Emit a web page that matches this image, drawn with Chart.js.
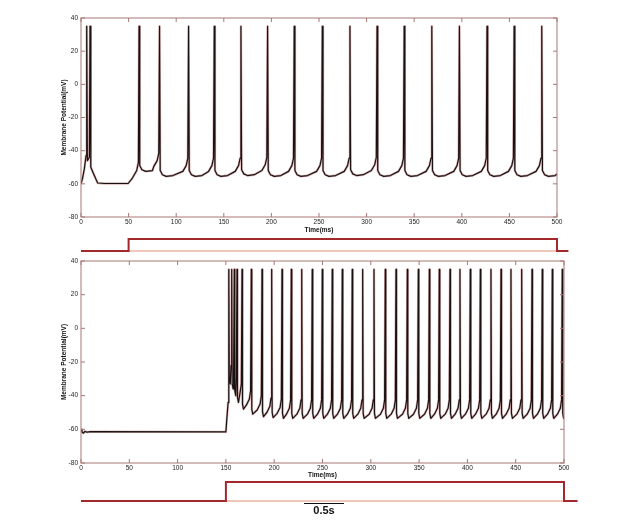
<!DOCTYPE html>
<html>
<head>
<meta charset="utf-8">
<script src="https://cdn.jsdelivr.net/npm/chart.js@4"></script>
<style>
  body { margin: 0; background: #fff; }
  #wrap { position: relative; width: 623px; height: 525px; }
  #wrap canvas { position: absolute; left: 0; }
  #scalebar {
    position: absolute; left: 304px; top: 503px; width: 40px;
    border-top: 1.5px solid #111;
    font: bold 11px "Liberation Sans", Arial, sans-serif;
    text-align: center; line-height: 13px; color: #111;
  }
</style>
</head>
<body>
<div id="wrap">
  <canvas id="topTrace" width="623" height="236" style="top:0"></canvas>
  <canvas id="topStim" width="623" height="32" style="top:228px"></canvas>
  <canvas id="botTrace" width="623" height="231" style="top:250px"></canvas>
  <canvas id="botStim" width="623" height="36" style="top:472px"></canvas>
  <div id="scalebar">0.5s</div>
</div>
<script>
/* ===== DATA (ms, mV) ===== */
const PEAK = 35;

// top trace: onset burst + rest before the regular firing
const topLead = [[0, -60], [1.5, -57], [3.5, -51], [5.3, -43], [6, 35], [6.7, -46], [8.8, -44],
  [9.5, 35], [10.3, -50], [12.5, -53], [15.5, -57], [17.5, -59.5], [25, -59.8], [49.5, -59.8],
  [54, -56.5], [58.5, -52], [60.3, -47]];
const topSpikes = [61, 82.5, 113, 140, 168, 196, 224, 253.5, 282.5, 311, 339.5, 368.5, 397.5, 426.5, 455, 484];
const topTroughs = [-52.5, -55.5, -55.5, -55.5, -55, -55.5, -55.5, -55.5, -55, -55.5, -55.5, -55.5, -55.5, -55.5, -55.5, -55.5];
const topEnd = [500, -54];
// shape around each spike: [ms after spike, mV above trough], [ms before next spike, mV above trough]
const topAfter = [[0.7, 3.5], [3, 1], [7, 0], [14, 0.5]];
const topBefore = [[-6, 3], [-2.5, 6.5], [-0.8, 11]];

// bottom trace
const botLead = [[0, -60], [1, -61.5], [2.5, -62.3], [4, -61.2], [6, -61.7], [10, -61.4],
  [150, -61.5], [150.8, -55], [152.3, -44]];
const botSpikes = [153, 156, 158.7, 161.5, 166.7, 176.3, 187.4, 197.4, 208.1, 217.7, 228.5, 239.4,
  249.8, 260.1, 270.5, 280.8, 291.6, 303.3, 315, 326.1, 337.8, 349.2, 360.6, 370.9, 382, 392.3,
  403, 413.4, 424.4, 434.8, 445.1, 456.2, 466.9, 477.5, 487.9, 498.2];
const botTroughs = [-33, -36, -40, -44, -48, -51, -52.5, -53, -53.5, -53.5, -53.5, -53.5,
  -53.5, -53.5, -53.5, -53.5, -53.5, -53.5, -53.5, -53.5, -53.5, -53.5, -53.5, -53.5, -53.5, -53.5,
  -53.5, -53.5, -53.5, -53.5, -53.5, -53.5, -53.5, -53.5, -53.5, -53.5];
const botEnd = [500, -53];
const botAfter = [[0.5, 3], [1.5, 0]];
const botBefore = [[-5, 2.5], [-2, 6], [-0.7, 11]];

// current step (0 = off, 1 = on)
const topStep = [[0, 0], [50, 0], [50, 1], [500, 1], [500, 0], [512, 0]];
const topStepBase = [[50, 0], [500, 0]];
const botStep = [[0, 0], [150, 0], [150, 1], [500, 1], [500, 0], [514, 0]];
const botStepBase = [[150, 0], [500, 0]];

const xTicks = { min: 0, max: 500, step: 50 };
const yTicks = { min: -80, max: 40, step: 20 };
const stimXMax = 520;

/* ===== HELPERS ===== */
const FONT = '"Liberation Sans", Arial, sans-serif';
const BOX = "#a87876";

function buildTrace(lead, spikes, troughs, after, before, end) {
  const pts = lead.map(([x, y]) => ({ x, y }));
  spikes.forEach((ts, i) => {
    const last = i === spikes.length - 1;
    const next = last ? end[0] : spikes[i + 1];
    const tr = troughs[i];
    const add = (x, y) => {
      if (x > pts[pts.length - 1].x && x < next) pts.push({ x, y });
    };
    pts.push({ x: ts, y: PEAK });
    after.forEach(([dt, dv]) => add(ts + dt, tr + dv));
    if (!last) before.forEach(([dt, dv]) => add(next + dt, tr + dv));
  });
  pts.push({ x: end[0], y: end[1] });
  return pts;
}

const toXY = arr => arr.map(([x, y]) => ({ x, y }));

// box round the plot with inward tick marks on all four sides
const boxTicks = {
  id: "boxTicks",
  afterDraw(chart) {
    const { ctx, chartArea: a, scales: { x, y } } = chart;
    const L = 4;
    ctx.save();
    ctx.strokeStyle = BOX;
    ctx.lineWidth = 1;
    ctx.strokeRect(a.left, a.top, a.right - a.left, a.bottom - a.top);
    ctx.beginPath();
    x.ticks.forEach(t => {
      const px = x.getPixelForValue(t.value);
      ctx.moveTo(px, a.bottom); ctx.lineTo(px, a.bottom - L);
      ctx.moveTo(px, a.top); ctx.lineTo(px, a.top + L);
    });
    y.ticks.forEach(t => {
      const py = y.getPixelForValue(t.value);
      ctx.moveTo(a.left, py); ctx.lineTo(a.left + L, py);
      ctx.moveTo(a.right, py); ctx.lineTo(a.right - L, py);
    });
    ctx.stroke();
    ctx.restore();
  },
};

function traceChart(id, data, pad, xHeight) {
  return new Chart(document.getElementById(id), {
    type: "line",
    data: {
      datasets: [
        { data, borderColor: "#1a1212", borderWidth: 1.2, order: 0 },
        { data, borderColor: "rgba(175,90,90,0.45)", borderWidth: 2.4, order: 1 },
      ],
    },
    options: {
      responsive: false,
      animation: false,
      events: [],
      layout: { padding: pad },
      elements: { point: { radius: 0 }, line: { tension: 0, borderJoinStyle: "round" } },
      plugins: { legend: { display: false }, tooltip: { enabled: false } },
      scales: {
        x: {
          type: "linear",
          min: xTicks.min, max: xTicks.max,
          afterFit: s => { s.height = xHeight; },
          ticks: { stepSize: xTicks.step, padding: 1, color: "#222", font: { family: FONT, size: 6.5 } },
          grid: { display: false, drawTicks: false },
          border: { display: false },
          title: { display: true, text: "Time(ms)", color: "#111", padding: { top: 0, bottom: 2 },
            font: { family: FONT, size: 6.5, weight: "bold" } },
        },
        y: {
          min: yTicks.min, max: yTicks.max,
          afterFit: s => { s.width = 23; },
          ticks: { stepSize: yTicks.step, padding: 3, color: "#222", font: { family: FONT, size: 6.5 } },
          grid: { display: false, drawTicks: false },
          border: { display: false },
          title: { display: true, text: "Membrane Potential(mV)", color: "#111", padding: { top: 2, bottom: 0 },
            font: { family: FONT, size: 6.5, weight: "bold" } },
        },
      },
    },
    plugins: [boxTicks],
  });
}

// plotWidth: pixel width of 0..500 ms, so the step lines up with the trace above it
function stimChart(id, step, base, plotWidth, top, bottom) {
  const areaWidth = plotWidth * stimXMax / xTicks.max;
  return new Chart(document.getElementById(id), {
    type: "line",
    data: {
      datasets: [
        { data: toXY(step), borderColor: "#a3282b", borderWidth: 2, clip: false, order: 0 },
        { data: toXY(base), borderColor: "#eab4a4", borderWidth: 1.6, clip: false, order: 1 },
      ],
    },
    options: {
      responsive: false,
      animation: false,
      events: [],
      layout: { padding: { left: 81, right: 623 - 81 - areaWidth, top, bottom } },
      elements: { point: { radius: 0 }, line: { tension: 0, borderJoinStyle: "miter" } },
      plugins: { legend: { display: false }, tooltip: { enabled: false } },
      scales: {
        x: { type: "linear", display: false, min: xTicks.min, max: stimXMax },
        y: { display: false, min: 0, max: 1 },
      },
    },
  });
}

/* ===== INIT ===== */
traceChart("topTrace", buildTrace(topLead, topSpikes, topTroughs, topAfter, topBefore, topEnd),
  { left: 58, right: 66, top: 18, bottom: 0 }, 19);
traceChart("botTrace", buildTrace(botLead, botSpikes, botTroughs, botAfter, botBefore, botEnd),
  { left: 58, right: 59, top: 11, bottom: 0 }, 18);
stimChart("topStim", topStep, topStepBase, 623 - 66 - 81, 11, 9);
stimChart("botStim", botStep, botStepBase, 623 - 59 - 81, 10, 7);
</script>
</body>
</html>
